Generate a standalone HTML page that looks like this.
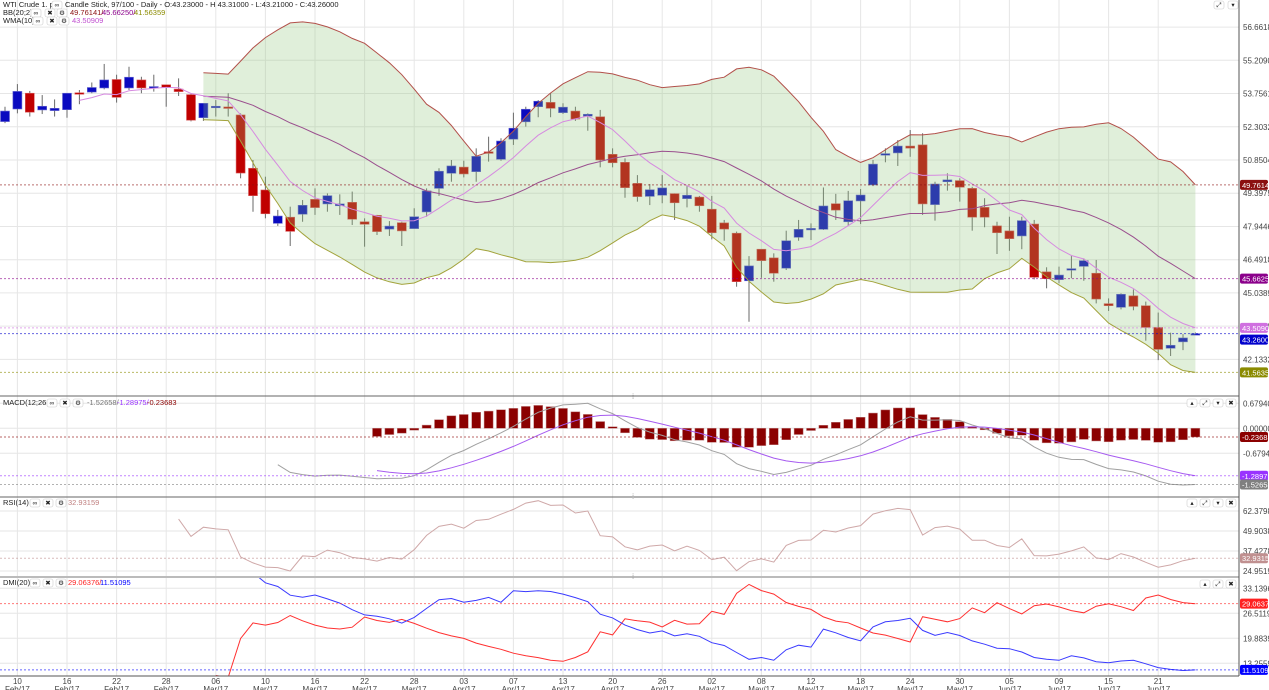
<!DOCTYPE html>
<html><head><meta charset="utf-8"><title>WTI Crude chart</title>
<style>
html,body{margin:0;padding:0;background:#fff;width:1269px;height:690px;overflow:hidden}
svg{display:block;font-family:"Liberation Sans",Arial,sans-serif}
</style></head>
<body>
<svg id="chart" width="1269" height="690" viewBox="0 0 1269 690" xmlns="http://www.w3.org/2000/svg">
<defs>
<clipPath id="cMain"><rect x="0" y="0" width="1239" height="396"/></clipPath>
<clipPath id="cMacd"><rect x="0" y="397" width="1239" height="100"/></clipPath>
<clipPath id="cRsi"><rect x="0" y="498" width="1239" height="79"/></clipPath>
<clipPath id="cDmi"><rect x="0" y="578" width="1239" height="98"/></clipPath>
</defs>
<g id="grid"></g>
<g id="main" clip-path="url(#cMain)"></g>
<g id="macd" clip-path="url(#cMacd)"></g>
<g id="rsi" clip-path="url(#cRsi)"></g>
<g id="dmi" clip-path="url(#cDmi)"></g>
<g id="axes"></g>
<g id="labels"></g>
</svg>
<script>
const openP=[52.53,53.08,53.77,53.04,53.01,53.05,53.79,53.82,54.00,54.37,54.00,54.35,54.02,54.14,53.95,53.71,52.70,53.16,53.17,52.82,
50.49,49.54,48.08,48.35,48.48,49.13,48.93,48.85,49.00,48.15,
48.43,47.83,48.11,47.85,48.58,49.61,50.27,50.54,50.34,51.21,
50.88,51.76,52.52,53.18,53.37,52.92,52.99,52.77,52.74,51.10,
50.75,49.83,49.26,49.31,49.38,49.16,49.23,48.70,48.10,47.65,
45.57,46.95,46.57,46.12,47.47,47.80,47.82,48.94,48.15,49.06,
49.76,51.06,51.16,51.46,51.51,48.90,49.90,49.95,49.61,48.78,
47.97,47.75,47.53,48.05,45.96,45.62,46.04,46.20,45.90,44.57,
44.41,44.91,44.48,43.53,42.62,42.90,43.23];
const highP=[53.18,54.17,53.87,53.69,53.50,53.77,53.91,54.24,55.05,54.58,54.93,54.49,54.58,54.15,54.42,53.77,53.33,53.47,53.77,52.89,
50.85,50.12,48.67,48.81,49.10,49.61,49.39,49.35,49.47,48.30,
48.45,48.18,48.15,48.74,49.61,50.49,50.85,50.82,51.36,51.87,
51.80,52.92,53.18,53.47,53.77,53.33,53.18,52.89,53.04,51.36,
50.92,50.19,49.80,50.19,49.39,49.71,49.28,49.28,48.23,47.72,
46.65,46.95,46.77,47.76,48.23,48.08,49.65,49.37,49.50,49.58,
50.85,51.36,51.72,52.16,52.02,49.90,50.27,50.05,49.68,49.18,
48.15,48.37,48.37,48.23,46.16,46.19,46.65,46.55,46.48,44.80,
45.02,45.19,44.66,44.18,43.30,43.24,43.31];
const lowP=[52.46,52.89,52.75,52.86,52.75,52.70,53.29,53.77,53.94,53.36,53.91,53.77,53.84,53.18,53.65,52.54,52.56,52.75,52.75,50.05,
48.59,48.30,47.97,47.09,48.15,48.45,48.59,48.45,48.01,47.06,
47.57,47.53,47.09,47.85,48.37,49.28,49.90,50.09,49.90,50.78,
50.82,51.51,52.31,52.72,52.72,52.86,52.56,52.13,50.53,50.53,
49.20,49.03,48.88,48.96,48.23,48.78,48.59,47.38,47.32,45.31,
43.78,45.70,45.53,46.04,47.32,47.35,47.79,48.23,47.97,48.05,
49.71,50.75,50.59,50.99,48.45,48.20,49.51,49.03,47.76,47.91,
46.74,46.88,46.95,45.63,45.24,45.46,45.68,45.57,44.58,44.25,
44.32,44.28,42.95,42.10,42.28,42.54,43.21];
const closeP=[52.99,53.85,52.94,53.20,53.11,53.77,53.75,54.02,54.35,53.59,54.47,54.00,54.06,54.03,53.84,52.59,53.33,53.20,53.13,50.28,
49.29,48.50,48.40,47.73,48.87,48.77,49.29,48.93,48.26,48.04,
47.72,47.96,47.75,48.37,49.50,50.36,50.59,50.24,51.01,51.14,
51.68,52.24,53.07,53.42,53.11,53.16,52.64,52.85,50.85,50.73,
49.64,49.25,49.55,49.63,48.98,49.31,48.85,47.67,47.83,45.53,
46.22,46.45,45.90,47.32,47.82,47.86,48.84,48.66,49.07,49.32,
50.67,51.13,51.46,51.37,48.93,49.80,49.98,49.66,48.35,48.35,
47.67,47.41,48.20,45.72,45.66,45.82,46.10,46.45,44.77,44.48,
44.98,44.45,43.53,42.57,42.75,43.07,43.26];
const dayLabels=["10","16","22","28","06","10","16","22","28","03","07","13","20","26","02","08","12","18","24","30","05","09","15","21"];
const monthLabels=["Feb/17","Feb/17","Feb/17","Feb/17","Mar/17","Mar/17","Mar/17","Mar/17","Mar/17","Apr/17","Apr/17","Apr/17","Apr/17","Apr/17","May/17","May/17","May/17","May/17","May/17","May/17","Jun/17","Jun/17","Jun/17","Jun/17"];
const priceTicks=[56.66189,55.20902,53.75615,52.30328,50.85041,49.39754,47.94467,46.49181,45.03894,43.58607,42.13320];
const macdTicks=[0.67940,0.00000,-0.67940];
const rsiTicks=[62.37980,49.90384,37.42788,24.95192];
const dmiTicks=[33.13966,26.51198,19.88399,13.25599];

const NS="http://www.w3.org/2000/svg";
function mk(parent,tag,attrs,text){const e=document.createElementNS(NS,tag);for(const k in attrs)e.setAttribute(k,attrs[k]);if(text!==undefined)e.textContent=text;document.getElementById(parent).appendChild(e);return e;}
const xOf=i=>5+12.4*i;
const yP=p=>160+(50.85041-p)/1.45287*33.23;
const yM=v=>428.3-v/0.02718;
const yR=v=>511+(62.3796-v)/0.6238;
const yD=v=>588.3+(33.13966-v)/0.2651;
const N=closeP.length;

// ---- indicators ----
const wma=[],bbU=[],bbM=[],bbL=[];
for(let i=0;i<N;i++){
  let s=0,w=0;for(let k=Math.max(0,i-9),j=1;k<=i;k++,j++){s+=closeP[k]*j;w+=j;}wma.push(s/w);
  const st=Math.max(0,i-19);let m=0,c=0;for(let k=st;k<=i;k++){m+=closeP[k];c++;}m/=c;
  let v=0;for(let k=st;k<=i;k++)v+=(closeP[k]-m)**2;const sd=Math.sqrt(v/c);
  bbM.push(m);bbU.push(m+2*sd);bbL.push(m-2*sd);
}
const macdL=[],sigL=[],histL=[];
{let e12=closeP[0],e26=closeP[0],sg=0;
 for(let i=0;i<N;i++){e12+= (closeP[i]-e12)*2/13;e26+=(closeP[i]-e26)*2/27;const m=e12-e26;macdL.push(m);
  if(i===0)sg=m;else sg+=(m-sg)*2/10;sigL.push(sg);histL.push(m-sg);}}
const rsiL=[];
{let ag=0,al=0;for(let i=1;i<N;i++){const d=closeP[i]-closeP[i-1];const g=Math.max(d,0),l=Math.max(-d,0);
  if(i<=14){ag+=g/14;al+=l/14;}else{ag=(ag*13+g)/14;al=(al*13+l)/14;}
  rsiL[i]=al===0?100:100-100/(1+ag/al);}}
const pdi=[],mdi=[];
{let sp=0,sm=0,st=0;for(let i=1;i<N;i++){const up=highP[i]-highP[i-1],dn=lowP[i-1]-lowP[i];
  const pdm=(up>dn&&up>0)?up:0,mdm=(dn>up&&dn>0)?dn:0;
  const tr=Math.max(highP[i]-lowP[i],Math.abs(highP[i]-closeP[i-1]),Math.abs(lowP[i]-closeP[i-1]));
  if(i===1){sp=pdm;sm=mdm;st=tr;}else{sp+=(pdm-sp)/20;sm+=(mdm-sm)/20;st+=(tr-st)/20;}
  pdi[i]=100*sp/st;mdi[i]=100*sm/st;}}

// ---- grid ----
for(let k=0;k<dayLabels.length;k++){const x=xOf(1+4*k);
  const g=mk('grid','line',{x1:x,x2:x,y1:0,y2:676,stroke:'#e6e6e6','stroke-width':1});
  
  }
function hgrid(ticks,fy,name){for(const t of ticks){const y=fy(t);
  const g=mk('grid','line',{x1:0,x2:1239,y1:y,y2:y,stroke:'#e6e6e6','stroke-width':1});
  
  
  const tx=mk('labels','text',{x:1243,y:y+3,'font-size':8,fill:'#444'},t.toFixed(5));
  
  }}
hgrid(priceTicks,yP,'price-gridline');
hgrid(macdTicks,yM,'macd-gridline');
hgrid(rsiTicks,yR,'rsi-gridline');
hgrid(dmiTicks,yD,'dmi-gridline');

// ---- main panel ----
const bs=16;
function pts(arr,fy,start){let s=[];for(let i=start;i<N;i++)if(arr[i]!==undefined)s.push(xOf(i).toFixed(1)+','+fy(arr[i]).toFixed(1));return s;}
for(let i=0;i<N;i++){
  const up=closeP[i]>=openP[i];const x=xOf(i);
  const wk=mk('main','line',{x1:x,x2:x,y1:yP(highP[i]),y2:yP(lowP[i]),stroke:'#6a6a6a','stroke-width':1});
  
  
  const t=yP(Math.max(openP[i],closeP[i])),b=yP(Math.min(openP[i],closeP[i]));
  const bd=mk('main','rect',{x:x-4.5,y:t,width:9,height:Math.max(1.5,b-t),fill:up?'#0a0ac0':'#c00000',stroke:up?'#6a6ad0':'#d86060','stroke-width':0.6});
  
  
}
const fillPts=pts(bbU,yP,bs).concat(pts(bbL,yP,bs).reverse());
const bbf=mk('main','polygon',{points:fillPts.join(' '),fill:'rgba(140,195,120,0.27)',stroke:'none'});


const lU=mk('main','polyline',{points:pts(bbU,yP,bs).join(' '),fill:'none',stroke:'#b2504a','stroke-width':1});


const lM=mk('main','polyline',{points:pts(bbM,yP,bs).join(' '),fill:'none',stroke:'#9a4f8e','stroke-width':1});


const lL=mk('main','polyline',{points:pts(bbL,yP,bs).join(' '),fill:'none',stroke:'#a3a33c','stroke-width':1});


const lW=mk('main','polyline',{points:pts(wma,yP,6).join(' '),fill:'none',stroke:'#d68ae0','stroke-width':1});



// ---- macd panel ----
for(let i=30;i<N;i++){const x=xOf(i),y0=yM(0),y1=yM(histL[i]);
  const r=mk('macd','rect',{x:x-4.5,y:Math.min(y0,y1),width:9,height:Math.max(1,Math.abs(y1-y0)),fill:'#8b0000',stroke:'#c08080','stroke-width':0.5});
  
  }
const mL=mk('macd','polyline',{points:pts(macdL,yM,22).join(' '),fill:'none',stroke:'#a0a0a0','stroke-width':1});


const sL=mk('macd','polyline',{points:pts(sigL,yM,30).join(' '),fill:'none',stroke:'#a65af0','stroke-width':1});


// ---- rsi ----
const rL=mk('rsi','polyline',{points:pts(rsiL,yR,14).join(' '),fill:'none',stroke:'#cfa8a8','stroke-width':1});


// ---- dmi ----
const dM=mk('dmi','polyline',{points:pts(mdi,yD,17).join(' '),fill:'none',stroke:'#ff3030','stroke-width':1});


const dP=mk('dmi','polyline',{points:pts(pdi,yD,17).join(' '),fill:'none',stroke:'#3a3aff','stroke-width':1});



// ---- last value markers ----
const L=N-1;
const markers=[
 ['bb-upper-value',bbU[L],yP,'#8b1010',0],
 ['bb-middle-value',bbM[L],yP,'#8b008b',0],
 ['wma-value',wma[L],yP,'#d070e0',0],
 ['close-value',closeP[L],yP,'#0000cc',6],
 ['bb-lower-value',bbL[L],yP,'#8b8b00',0],
 ['macd-hist-value',histL[L],yM,'#8b0000',0],
 ['macd-signal-value',sigL[L],yM,'#9933ff',0],
 ['macd-value',macdL[L],yM,'#808080',0],
 ['rsi-value',rsiL[L],yR,'#c09090',0],
 ['dmi-minus-value',mdi[L],yD,'#ff2020',0],
 ['dmi-plus-value',pdi[L],yD,'#0000ff',0]];
for(const m of markers){const y=m[2](m[1]);
  const dl=mk('axes','line',{x1:0,x2:1239,y1:y,y2:y,stroke:m[3],'stroke-width':1,'stroke-dasharray':'2,2',opacity:0.6});
  
  
  const yy=y+m[4];
  const bx=mk('labels','rect',{x:1240,y:yy-5,width:28,height:10,rx:2,fill:m[3]});
  
  
  const tx=mk('labels','text',{x:1242,y:yy+3,'font-size':7.5,fill:'#fff'},m[1].toFixed(5));
  
  }

// ---- frame ----
const frame=[[0,396,1239,396,'#666',1],[0,497,1239,497,'#666',1],[0,577,1239,577,'#bbb',2],[0,676,1239,676,'#555',1],[1239,0,1239,676,'#555',1]];
for(const f of frame){const l=mk('axes','line',{x1:f[0],y1:f[1],x2:f[2],y2:f[3],stroke:f[4],'stroke-width':f[5]});
  
  }
for(let k=0;k<dayLabels.length;k++){const x=xOf(1+4*k);
  const a=mk('labels','text',{x:x,y:684,'font-size':8,fill:'#444','text-anchor':'middle'},dayLabels[k]);
  
  
  const b=mk('labels','text',{x:x,y:692,'font-size':8,fill:'#444','text-anchor':'middle'},monthLabels[k]);
  
  }

// ---- headers ----
function txt(x,y,s,c,name){const t=mk('labels','text',{x:x,y:y,'font-size':7.5,fill:c},s);
  
  return t;}
function icon(x,y,g,name){const r=mk('labels','rect',{x:x,y:y-6,width:10,height:8,rx:2,fill:'#fff',stroke:'#ccc','stroke-width':0.6});
  
  
  const t=mk('labels','text',{x:x+5,y:y,'font-size':6.5,fill:'#222','text-anchor':'middle'},g);
  
  }
txt(3,7,'WTI Crude 1. pos','#222','symbol-title');
icon(52,7,'∞','link-icon');
txt(65,7,'Candle Stick, 97/100 - Daily - O:43.23000 - H 43.31000 - L:43.21000 - C:43.26000','#222','ohlc-info');
txt(3,15,'BB(20;2)','#222','bb-title');icon(31,15,'∞','bb-link');icon(45,15,'✖','bb-remove');icon(57,15,'⚙','bb-settings');
txt(70,15,bbU[L].toFixed(5)+'/','#8b1010','bb-upper-legend');txt(102,15,bbM[L].toFixed(5)+'/','#8b008b','bb-middle-legend');txt(134,15,bbL[L].toFixed(5),'#8b8b00','bb-lower-legend');
txt(3,23,'WMA(10)','#222','wma-title');icon(33,23,'∞','wma-link');icon(47,23,'✖','wma-remove');icon(59,23,'⚙','wma-settings');
txt(72,23,wma[L].toFixed(5),'#c050d0','wma-legend');
txt(3,405,'MACD(12;26;9)','#222','macd-title');icon(47,405,'∞','macd-link');icon(60,405,'✖','macd-remove');icon(73,405,'⚙','macd-settings');
txt(87,405,macdL[L].toFixed(5)+'/','#777','macd-legend');txt(117,405,sigL[L].toFixed(5)+'/','#9933ff','signal-legend');txt(147,405,histL[L].toFixed(5),'#8b0000','hist-legend');
txt(3,505,'RSI(14)','#222','rsi-title');icon(30,505,'∞','rsi-link');icon(43,505,'✖','rsi-remove');icon(56,505,'⚙','rsi-settings');
txt(68,505,rsiL[L].toFixed(5),'#c08080','rsi-legend');
txt(3,585,'DMI(20)','#222','dmi-title');icon(30,585,'∞','dmi-link');icon(43,585,'✖','dmi-remove');icon(56,585,'⚙','dmi-settings');
txt(68,585,mdi[L].toFixed(5)+'/','#ff2020','dmi-minus-legend');txt(100,585,pdi[L].toFixed(5),'#0000ff','dmi-plus-legend');
icon(1214,7,'⤢','main-maximize');icon(1228,7,'▾','main-menu');
icon(1187,405,'▴','macd-up');icon(1200,405,'⤢','macd-maximize');icon(1213,405,'▾','macd-down');icon(1226,405,'✖','macd-close');
icon(1187,505,'▴','rsi-up');icon(1200,505,'⤢','rsi-maximize');icon(1213,505,'▾','rsi-down');icon(1226,505,'✖','rsi-close');
icon(1200,586,'▴','dmi-up');icon(1213,586,'⤢','dmi-maximize');icon(1226,586,'✖','dmi-close');
for(const y of [399,499,579]){txt(632,y,'⁞','#888','panel-resize-handle');}
</script>
</body></html>
